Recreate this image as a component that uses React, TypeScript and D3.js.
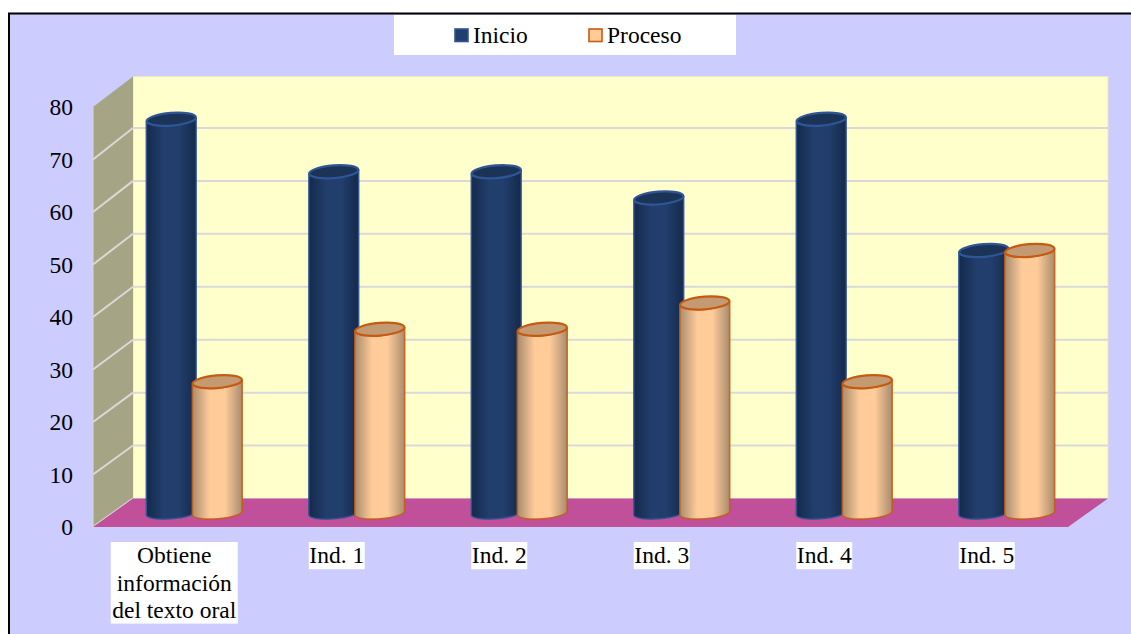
import React from "react";
import * as d3 from "d3";

const categories = ["Obtiene|información|del texto oral", "Ind. 1", "Ind. 2", "Ind. 3", "Ind. 4", "Ind. 5"];
const seriesNames = ["Inicio", "Proceso"];
const inicio = [75, 65, 65, 60, 75, 50];
const proceso = [25, 35, 35, 40, 25, 50];
const ticks = [0, 10, 20, 30, 40, 50, 60, 70, 80];

const FONT = "'Liberation Serif', 'Times New Roman', serif";
const FS = 23.5;
const DX = 40, DY = 28;
const front = { l: 93, r: 1068, b: 527, t: 107 };

const yFront = d3.scaleLinear().domain([0, 80]).range([front.b, front.t]);
const yBack = d3.scaleLinear().domain([0, 80]).range([498.5, 75]);
const WALL_TOP = 76.5;
const xFront = d3.scaleBand<string>().domain(categories).range([front.l, front.r]);
// cylinders stand half way along the depth of the floor
const xMid = (c: string) => xFront(c)! + xFront.bandwidth() / 2 + DX / 2;
const yMid = (v: number) => yFront(v) - DY / 2;
const xSeries = d3.scaleOrdinal<string, number>().domain(seriesNames).range([-23, 23]);

const BW = 25, RY = 6.3, RB = 5.8, ROT = -4.5;
const rad = (ROT * Math.PI) / 180;

function Cylinder({ cx, v, fill, top, stroke }: { cx: number; v: number; fill: string; top: string; stroke: string }) {
  const tY = yMid(v), bY = yMid(0);
  const ex = BW * Math.cos(rad), ey = BW * Math.sin(rad);
  const body = `M${cx - ex},${tY - ey} L${cx - ex},${bY - ey} A${BW},${RB} ${ROT} 0 0 ${cx + ex},${bY + ey} L${cx + ex},${tY + ey} A${BW},${RY} ${ROT} 0 1 ${cx - ex},${tY - ey} Z`;
  return (
    <g>
      <path d={body} fill={fill} stroke={stroke} strokeWidth={1.6} strokeOpacity={0.85} />
      <ellipse cx={cx} cy={tY} rx={BW - 0.3} ry={RY} transform={`rotate(${ROT} ${cx} ${tY})`} fill={top} stroke={stroke} strokeWidth={2.2} />
    </g>
  );
}

function Grad({ id, edge, mid }: { id: string; edge: string; mid: string }) {
  return (
    <linearGradient id={id} x1="0" x2="1" y1="0" y2="0">
      <stop offset="0" stopColor={edge} />
      <stop offset="0.35" stopColor={mid} />
      <stop offset="0.65" stopColor={mid} />
      <stop offset="1" stopColor={edge} />
    </linearGradient>
  );
}

export default function App() {
  const legend = [
    { name: seriesNames[0], x: 455, fill: "#223e6e", stroke: "#2f5597" },
    { name: seriesNames[1], x: 589, fill: "#ffcc99", stroke: "#c55a11" },
  ];
  return (
    <svg width={1131} height={634} style={{ position: "absolute", left: 0, top: 0 }} fontFamily={FONT}>
      <defs>
        <Grad id="navy" edge="#142a4c" mid="#223e6c" />
        <Grad id="peach" edge="#a98c6e" mid="#ffcc99" />
      </defs>
      <rect x={9} y={13.5} width={1130} height={630} fill="#ccccff" stroke="#000" strokeWidth={2} />

      {/* legend */}
      <rect x={394} y={15} width={342} height={40} fill="#fff" />
      {legend.map((l) => (
        <g key={l.name}>
          <rect x={l.x} y={29} width={13} height={12.5} fill={l.fill} stroke={l.stroke} strokeWidth={1.6} />
          <text x={l.x + 18} y={42.5} fontSize={FS} fill="#000">{l.name}</text>
        </g>
      ))}

      {/* walls */}
      <rect x={front.l + DX} y={WALL_TOP} width={front.r - front.l} height={yBack(0) - WALL_TOP} fill="#ffffcc" stroke="#e6e6c8" strokeWidth={1} />
      <polygon
        points={`${front.l},${yFront(80)} ${front.l + DX},${WALL_TOP} ${front.l + DX},${yBack(0)} ${front.l},${yFront(0)}`}
        fill="#a5a585"
      />
      {ticks.map((t) => (
        <g key={t}>
          {t > 0 && t < 80 && (
            <line x1={front.l + DX} x2={front.r + DX} y1={yBack(t)} y2={yBack(t)} stroke="#d9d9d9" strokeWidth={2} />
          )}
          {t < 80 && (
            <line x1={front.l} x2={front.l + DX} y1={yFront(t)} y2={yBack(t)} stroke="#d9d9d9" strokeWidth={2} />
          )}
          <text x={73} y={yFront(t) + 8} textAnchor="end" fontSize={FS} fill="#000">{t}</text>
        </g>
      ))}
      <line x1={front.l} x2={front.l} y1={yFront(80)} y2={yFront(0)} stroke="#d9d9d9" strokeWidth={1} />
      <polygon
        points={`${front.l},${yFront(0)} ${front.l + DX},${yBack(0)} ${front.r + DX},${yBack(0)} ${front.r},${yFront(0)}`}
        fill="#c0509a"
      />

      {/* cylinders */}
      {categories.map((c, i) => (
        <g key={c}>
          <Cylinder cx={xMid(c) + xSeries(seriesNames[0])} v={inicio[i]} fill="url(#navy)" top="#1a3357" stroke="#2f5597" />
          <Cylinder cx={xMid(c) + xSeries(seriesNames[1])} v={proceso[i]} fill="url(#peach)" top="#c49a73" stroke="#c55a11" />
        </g>
      ))}

      {/* category labels */}
      {categories.map((c) => {
        const lines = c.split("|");
        const cx = xFront(c)! + xFront.bandwidth() / 2;
        const w = lines.length > 1 ? 127 : 56;
        return (
          <g key={c}>
            <rect x={cx - w / 2} y={542} width={w} height={lines.length * 27.2} fill="#fff" />
            {lines.map((s, j) => (
              <text key={s} x={cx} y={563 + j * 27.7} textAnchor="middle" fontSize={FS} fill="#000">{s}</text>
            ))}
          </g>
        );
      })}
    </svg>
  );
}
